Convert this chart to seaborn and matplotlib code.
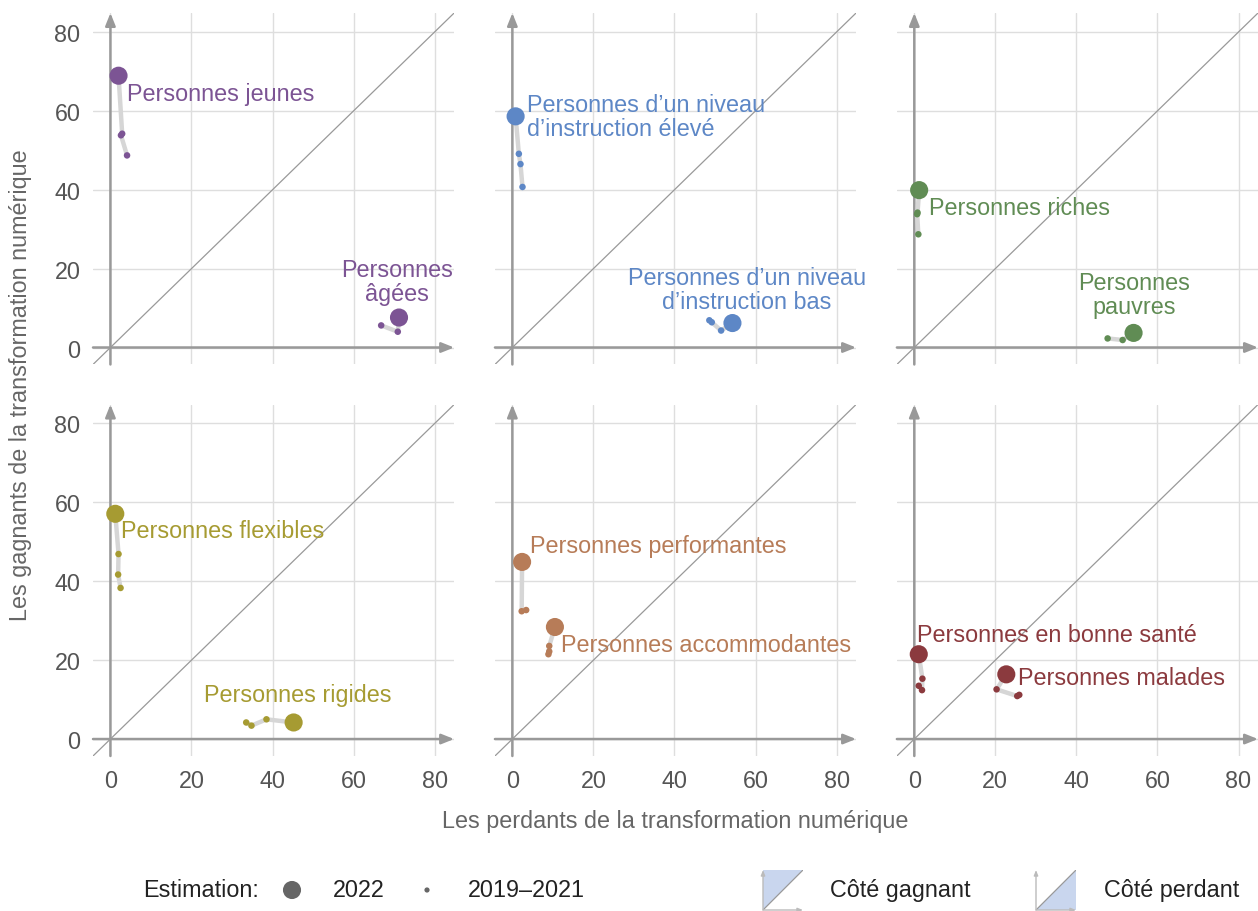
import numpy as np
import pandas as pd
import seaborn as sns
import matplotlib.pyplot as plt

# ---------------------------------------------------------------
# data
# ---------------------------------------------------------------
group_labels = [
    "Personnes jeunes", "Personnes\nâgées",
    "Personnes d’un niveau\nd’instruction élevé", "Personnes d’un niveau\nd’instruction bas",
    "Personnes riches", "Personnes\npauvres",
    "Personnes flexibles", "Personnes rigides",
    "Personnes performantes", "Personnes accommodantes",
    "Personnes en bonne santé", "Personnes malades",
]
group_panel = [0, 0, 1, 1, 2, 2, 3, 3, 4, 4, 5, 5]
panel_colors = ["#7c5494", "#5d87c6", "#608c54", "#a69b32", "#b77c58", "#8b3a3e"]

# 2022 estimate
x_2022 = [2.0, 71.2, 0.8, 54.3, 1.2, 54.1, 1.2, 45.2, 2.4, 10.5, 1.1, 22.7]
y_2022 = [68.9, 7.6, 58.6, 6.2, 39.9, 3.7, 57.1, 4.2, 44.9, 28.4, 21.5, 16.4]

# 2019-2021 estimates (path order starting next to 2022)
x_prev = [[2.9, 2.6, 4.1], [70.9, 66.8], [1.6, 2.0, 2.5], [51.5, 49.2, 48.6],
          [0.8, 0.7, 1.0], [51.4, 47.7], [2.0, 1.9, 2.5], [38.5, 34.8, 33.5],
          [2.3, 3.4], [9.1, 8.9, 9.1], [2.0, 1.9, 1.1], [20.3, 25.4, 25.9]]
y_prev = [[54.2, 53.8, 48.7], [4.0, 5.6], [49.1, 46.5, 40.7], [4.3, 6.4, 6.9],
          [34.2, 33.8, 28.7], [1.9, 2.3], [46.9, 41.7, 38.3], [5.0, 3.4, 4.2],
          [32.4, 32.7], [23.6, 21.5, 22.2], [15.3, 12.4, 13.5], [12.6, 10.9, 11.2]]

# label anchor (data coords) and alignment
label_x = [4.2, 70.7, 3.7, 57.9, 3.7, 54.2, 2.7, 46.1, 4.4, 12.0, 0.7, 25.5]
label_y = [64.4, 16.7, 58.6, 14.6, 35.4, 13.4, 52.8, 11.4, 49.0, 24.0, 26.5, 15.7]
label_ha = ["left", "center", "left", "center", "left", "center",
            "left", "center", "left", "left", "left", "left"]

ticks = [0, 20, 40, 60, 80]
lo, hi = -4.3, 84.8

rows = []
for i, lab in enumerate(group_labels):
    rows.append(dict(group=i, panel=group_panel[i], step=0, year="2022",
                     x=x_2022[i], y=y_2022[i]))
    for k, (xv, yv) in enumerate(zip(x_prev[i], y_prev[i])):
        rows.append(dict(group=i, panel=group_panel[i], step=k + 1, year="2019–2021",
                         x=xv, y=yv))
df = pd.DataFrame(rows)

# ---------------------------------------------------------------
# figure
# ---------------------------------------------------------------
sns.set_style("white")
plt.rcParams["font.family"] = ["Liberation Sans", "DejaVu Sans"]
FS = 16.8
GREY = "#999999"

fig, axes = plt.subplots(2, 3, figsize=(12.58, 9.12), dpi=100)
fig.subplots_adjust(left=93 / 1258, right=1.0, top=1 - 14 / 912, bottom=1 - 757 / 912,
                    wspace=0.113, hspace=0.114)

for p, ax in enumerate(axes.flat):
    row, col = divmod(p, 3)
    color = panel_colors[p]
    sub = df[df.panel == p]

    ax.set_xlim(lo, hi)
    ax.set_ylim(lo, hi)
    ax.set_xticks(ticks)
    ax.set_yticks(ticks)
    ax.grid(color="#dedede", lw=1)
    ax.set_axisbelow(True)
    for s in ax.spines.values():
        s.set_visible(False)
    ax.tick_params(length=0, labelsize=FS, labelcolor="#555555",
                   labelleft=(col == 0), labelbottom=(row == 1), pad=9)

    # diagonal
    ax.plot([lo, hi], [lo, hi], color=GREY, lw=0.9, zorder=1)
    # axis arrows
    arrow = dict(arrowstyle="-|>,head_length=0.75,head_width=0.3", color=GREY, lw=1.8,
                 shrinkA=0, shrinkB=0)
    ax.annotate("", xy=(hi, 0), xytext=(lo, 0), arrowprops=arrow, annotation_clip=False, zorder=2)
    ax.annotate("", xy=(0, hi), xytext=(0, lo), arrowprops=arrow, annotation_clip=False, zorder=2)

    # connecting paths
    sns.lineplot(data=sub.sort_values(["group", "step"]), x="x", y="y", units="group",
                 estimator=None, sort=False, color="#d6d6d6", lw=3.2, ax=ax,
                 legend=False, zorder=3)
    # points
    sns.scatterplot(data=sub, x="x", y="y", size="year",
                    sizes={"2022": 170, "2019–2021": 22}, color=color,
                    edgecolor="none", linewidth=0, ax=ax, legend=False, zorder=4)
    ax.set_xlabel("")
    ax.set_ylabel("")

    for i in np.where(np.array(group_panel) == p)[0]:
        ax.text(label_x[i], label_y[i], group_labels[i], color=color, fontsize=FS,
                ha=label_ha[i], va="center", linespacing=1.05, zorder=5)

fig.text(675 / 1258, 1 - 822 / 912, "Les perdants de la transformation numérique",
         ha="center", va="center", fontsize=FS, color="#666666")
fig.text(21 / 1258, 1 - 385 / 912, "Les gagnants de la transformation numérique",
         ha="center", va="center", rotation=90, fontsize=FS, color="#666666")

# ---------------------------------------------------------------
# legend (pixel coordinates overlay)
# ---------------------------------------------------------------
leg = fig.add_axes([0, 0, 1, 1], facecolor="none")
leg.set_xlim(0, 1258)
leg.set_ylim(912, 0)
leg.axis("off")
ly = 891
leg.text(143, ly, "Estimation:", fontsize=FS, va="center", ha="left", color="#222222")
leg.scatter([292], [ly], s=170, color="#666666", edgecolor="none")
leg.text(333, ly, "2022", fontsize=FS, va="center", ha="left", color="#222222")
leg.scatter([427], [ly], s=14, color="#666666", edgecolor="none")
leg.text(468, ly, "2019–2021", fontsize=FS, va="center", ha="left", color="#222222")
leg.text(830, ly, "Côté gagnant", fontsize=FS, va="center", ha="left", color="#222222")
leg.text(1104, ly, "Côté perdant", fontsize=FS, va="center", ha="left", color="#222222")

for left, upper in [(763, True), (1036, False)]:
    ic = fig.add_axes([left / 1258, 1 / 912, 40 / 1258, 40 / 912], facecolor="none")
    ic.set_xlim(0, 1)
    ic.set_ylim(0, 1)
    ic.axis("off")
    if upper:
        ic.fill([0, 0, 1], [0, 1, 1], color="#c9d6ee", lw=0)
    else:
        ic.fill([0, 1, 1], [0, 0, 1], color="#c9d6ee", lw=0)
    ic.plot([0, 1], [0, 1], color=GREY, lw=0.9)
    small = dict(arrowstyle="-|>,head_length=0.3,head_width=0.12", color="#bbbbbb", lw=1,
                 shrinkA=0, shrinkB=0)
    ic.annotate("", xy=(1, 0), xytext=(0, 0), arrowprops=small, annotation_clip=False)
    ic.annotate("", xy=(0, 1), xytext=(0, 0), arrowprops=small, annotation_clip=False)

fig.savefig("out.png", dpi=100)
